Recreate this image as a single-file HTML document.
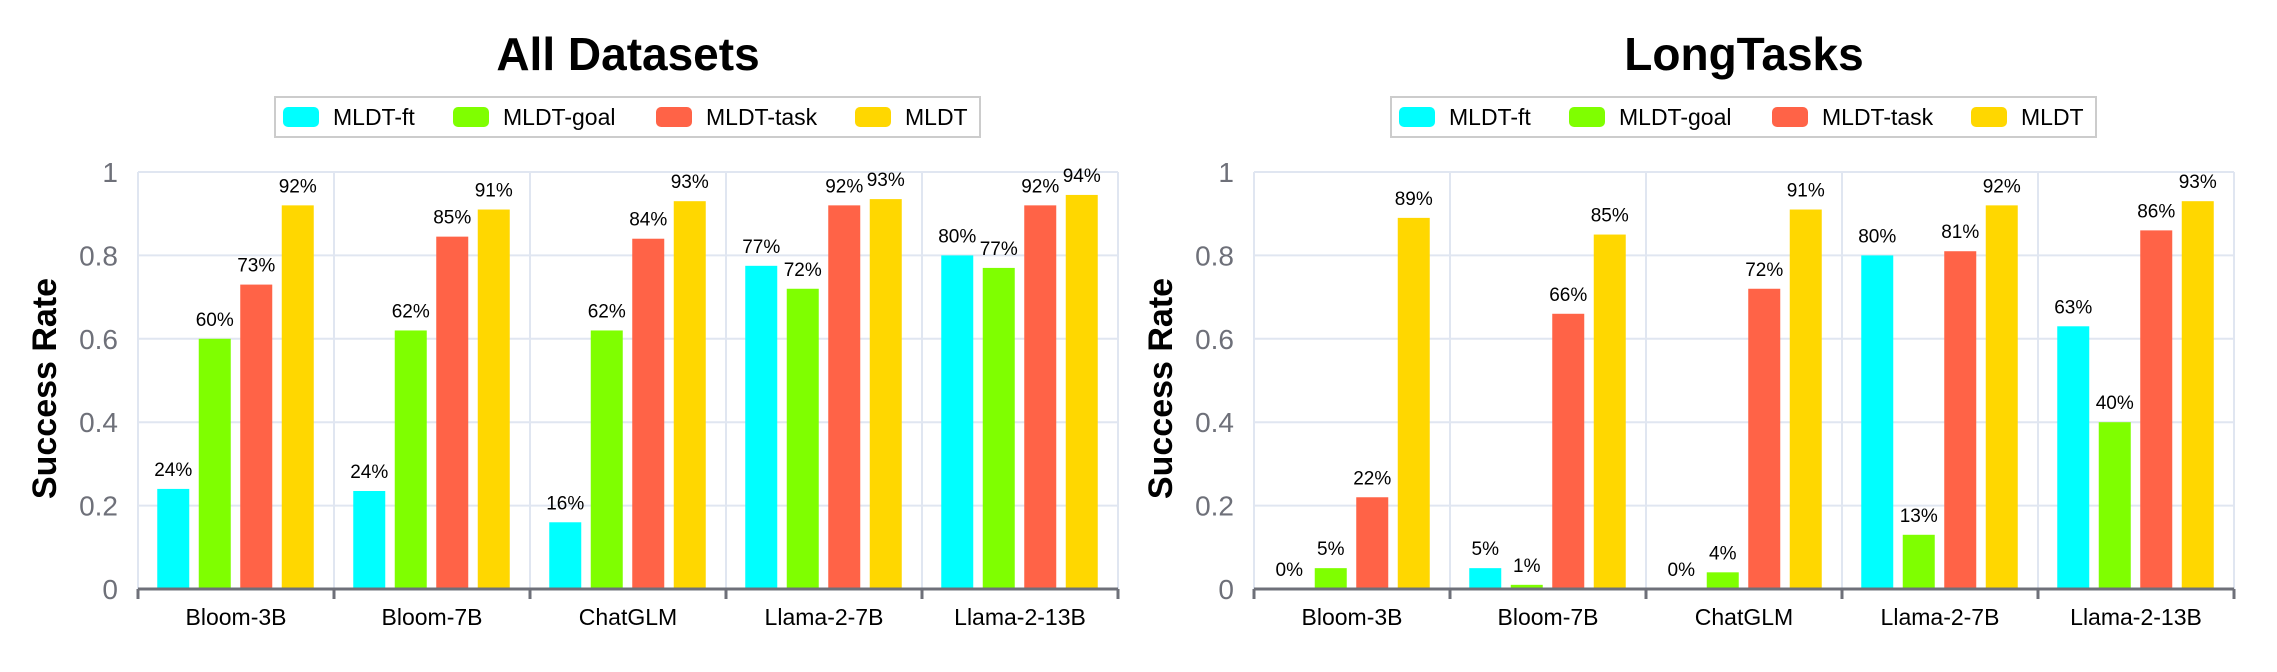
<!DOCTYPE html>
<html><head><meta charset="utf-8"><style>
html,body{margin:0;padding:0;background:#fff;}
svg{display:block;font-family:"Liberation Sans","DejaVu Sans",sans-serif;}
</style></head><body>
<svg id="chart" width="2277" height="672" viewBox="0 0 2277 672"></svg>
<script>
const categories = ["Bloom-3B","Bloom-7B","ChatGLM","Llama-2-7B","Llama-2-13B"];
const seriesNames = ["MLDT-ft","MLDT-goal","MLDT-task","MLDT"];
const colors = ["#00ffff","#7fff00","#ff6347","#ffd700"];
const yTicks = [0,0.2,0.4,0.6,0.8,1];
const yTickLabels = ["0","0.2","0.4","0.6","0.8","1"];
const allFt = [0.24,0.235,0.16,0.775,0.80];
const allGoal = [0.60,0.62,0.62,0.72,0.77];
const allTask = [0.73,0.845,0.84,0.92,0.92];
const allMldt = [0.92,0.91,0.93,0.935,0.945];
const allLabels = [["24%","24%","16%","77%","80%"],["60%","62%","62%","72%","77%"],["73%","85%","84%","92%","92%"],["92%","91%","93%","93%","94%"]];
const longFt = [0,0.05,0,0.80,0.63];
const longGoal = [0.05,0.01,0.04,0.13,0.40];
const longTask = [0.22,0.66,0.72,0.81,0.86];
const longMldt = [0.89,0.85,0.91,0.92,0.93];
const longLabels = [["0%","5%","0%","80%","63%"],["5%","1%","4%","13%","40%"],["22%","66%","72%","81%","86%"],["89%","85%","91%","92%","93%"]];

const NS="http://www.w3.org/2000/svg";
const svg=document.getElementById('chart');
function mk(tag,attrs,parent,text){const e=document.createElementNS(NS,tag);for(const k in attrs)e.setAttribute(k,attrs[k]);if(text!==undefined)e.textContent=text;(parent||svg).appendChild(e);return e;}

function drawChart(ox,title,series,labels,key){
  const left=ox, right=ox+980, top=172, bottom=589;
  const g=mk('g',{});
  
  
  const y=v=>bottom-(v/1)*(bottom-top);
  const bandW=(right-left)/categories.length;
  const x=i=>left+i*bandW;
  const t=mk('text',{x:left+490,y:70,'text-anchor':'middle','font-size':'46','font-weight':'bold',fill:'#000'},g,title);
  
  
  const lg=mk('g',{},g);
  
  
  mk('rect',{x:left+137,y:97,width:705,height:40,fill:'#fff',stroke:'#ccc','stroke-width':2},lg);
  const lx=[145,315,518,717];
  seriesNames.forEach((n,i)=>{
    const it=mk('g',{},lg);
    
    
    mk('rect',{x:left+lx[i],y:107,width:36,height:20,rx:5,fill:colors[i]},it);
    mk('text',{x:left+lx[i]+50,y:125,'font-size':'23',fill:'#000'},it,n);
  });
  yTicks.forEach((v,i)=>{
    const l=mk('line',{x1:left,x2:right,y1:y(v),y2:y(v),stroke:'#e0e6f1','stroke-width':2},g);
    
    
    const tl=mk('text',{x:left-20,y:y(v)+10,'text-anchor':'end','font-size':'28',fill:'#6e7079'},g,yTickLabels[i]);
    
    
  });
  for(let i=0;i<=categories.length;i++){
    mk('line',{x1:x(i),x2:x(i),y1:top,y2:bottom,stroke:'#e0e6f1','stroke-width':2},g);
  }
  const yt=mk('text',{x:0,y:0,transform:`translate(${left-82},${(top+bottom)/2+8}) rotate(-90)`,'text-anchor':'middle','font-size':'34','font-weight':'bold',fill:'#000'},g,'Success Rate');
  
  
  const bw=32, step=41.5;
  categories.forEach((c,ci)=>{
    const cx=x(ci)+bandW/2;
    series.forEach((s,si)=>{
      const bx=cx-2*step+si*step+(step-bw)/2-0.5;
      const v=s[ci];
      const r=mk('rect',{x:bx,y:y(v),width:bw,height:bottom-y(v),fill:colors[si]},g);
      
      
      const lb=mk('text',{x:bx+bw/2,y:y(v)-13,'text-anchor':'middle','font-size':'19',fill:'#000'},g,labels[si][ci]);
      
      
    });
    const xl=mk('text',{x:cx,y:625,'text-anchor':'middle','font-size':'23',fill:'#000'},g,c);
    
    
  });
  mk('line',{x1:left,x2:right,y1:bottom,y2:bottom,stroke:'#6e7079','stroke-width':3},g);
  for(let i=0;i<=categories.length;i++){
    mk('line',{x1:x(i),x2:x(i),y1:bottom,y2:bottom+10,stroke:'#6e7079','stroke-width':3},g);
  }
}
drawChart(138,'All Datasets',[allFt,allGoal,allTask,allMldt],allLabels,'all-datasets');
drawChart(1254,'LongTasks',[longFt,longGoal,longTask,longMldt],longLabels,'longtasks');
</script>
</body></html>
